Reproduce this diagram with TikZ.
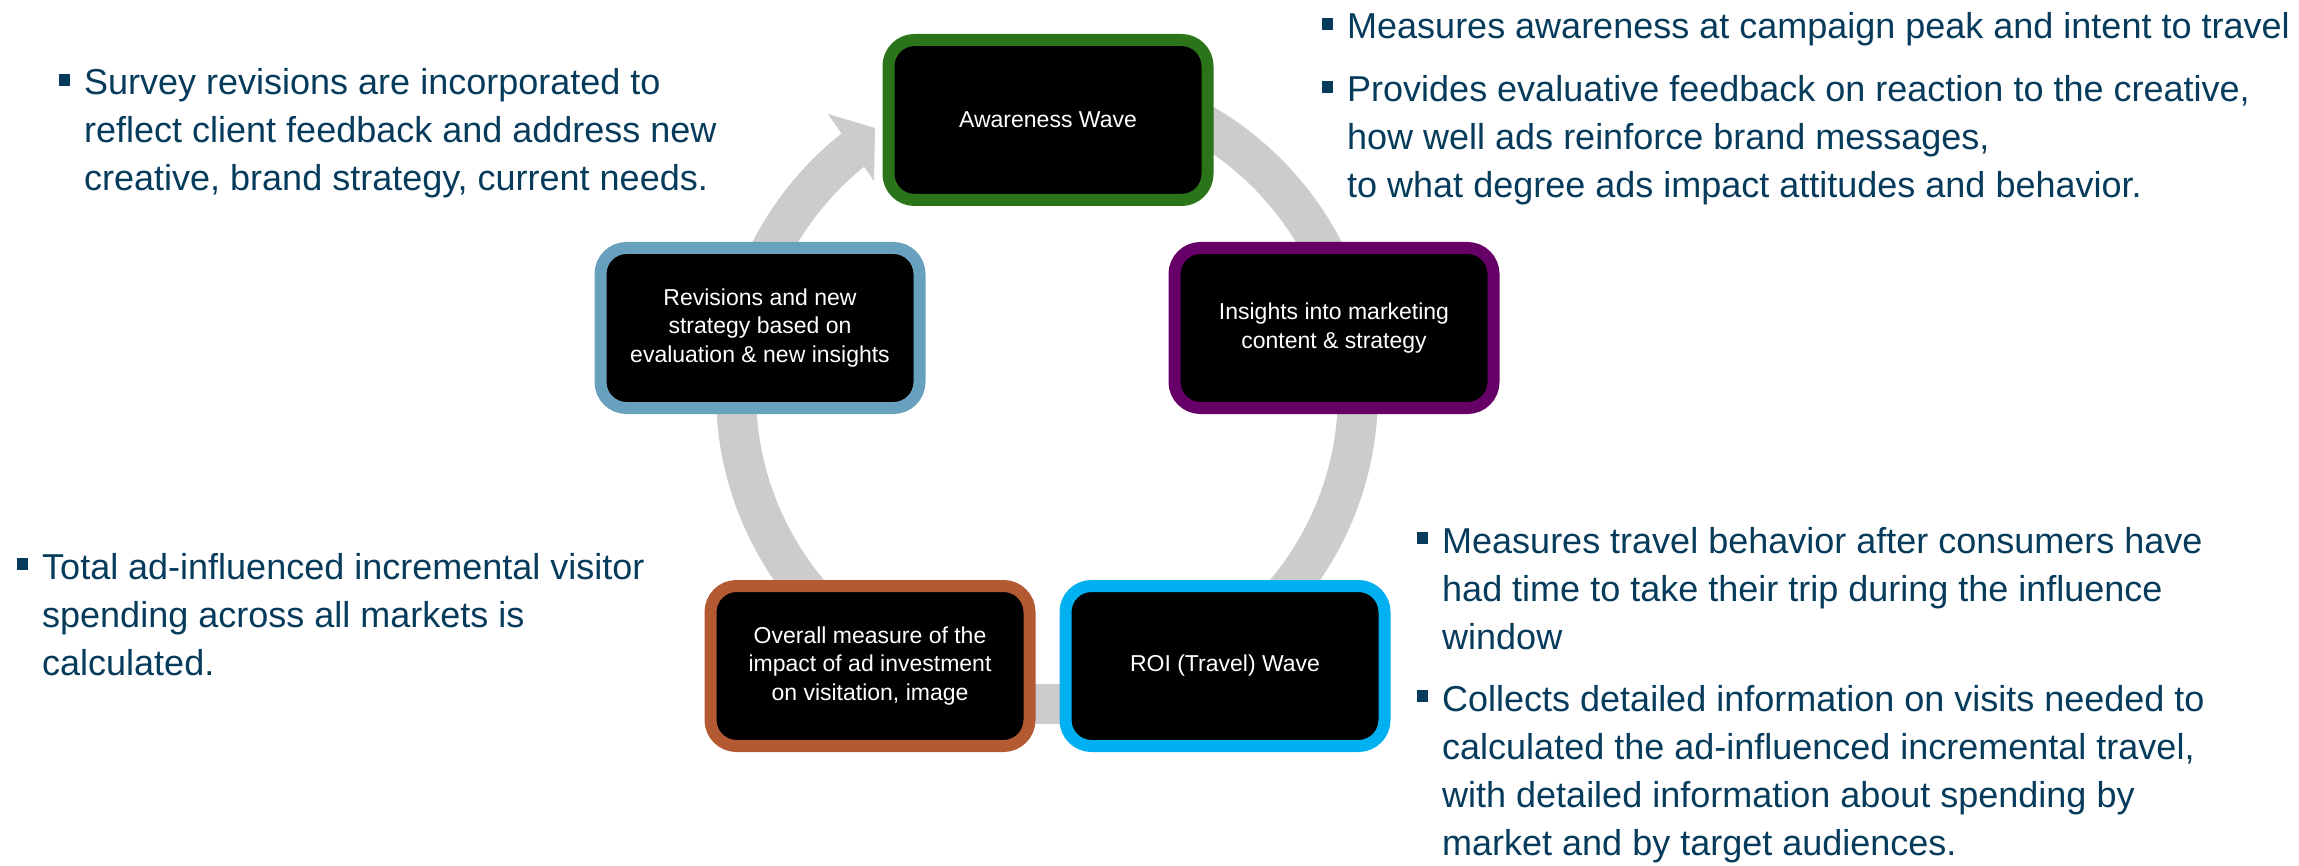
\documentclass[tikz,border=0pt]{standalone}
\usepackage{fontspec}
\setmainfont{Liberation Sans}
\usetikzlibrary{positioning}

\definecolor{navy}{HTML}{063B5C}
\definecolor{ringgrey}{HTML}{CCCCCC}
\definecolor{wavegreen}{HTML}{2C7419}
\definecolor{insightpurple}{HTML}{660066}
\definecolor{roicyan}{HTML}{00B0F0}
\definecolor{overallbrown}{HTML}{B35A32}
\definecolor{revisionblue}{HTML}{67A1BE}

% square bullet hanging left of the first line
\newcommand{\sqbul}{\llap{\raisebox{9pt}{\rule{11pt}{12pt}}\hspace{14pt}}}

\begin{document}
\begin{tikzpicture}[
   x=1pt, y=-1pt,
   stage/.style={draw,line width=12pt,fill=black,rounded corners=26pt,
                 minimum width=319pt,minimum height=160pt,align=center,
                 text=white,font=\fontsize{23}{28.5}\selectfont},
   note/.style={anchor=base west,align=left,inner sep=0pt,text=navy,
                font=\fontsize{36}{48}\selectfont},
   ring/.style={draw=ringgrey,line width=40pt},
   ]
\useasboundingbox (0,0) rectangle (2299,866);
%% cycle centre
\coordinate (c) at (1047,393);
%% grey cycle with its arrow head
\draw[ring] ([shift={(270:311)}]c) arc[start angle=270,end angle=592,radius=311];
\coordinate (h1) at (828,114);
\coordinate (h2) at (875,128);
\coordinate (h3) at (874,181);
\fill[ringgrey] (h1) -- (h2) -- (h3) -- cycle;
%% the five stages
\node[stage,draw=wavegreen]     (aware)    at (1048,120) {Awareness Wave};
\node[stage,draw=insightpurple] (insight)  at (1334,328) {Insights into marketing\\content \& strategy};
\node[stage,draw=roicyan]       (roi)      at (1225,666) {ROI (Travel) Wave};
\node[stage,draw=overallbrown]  (overall)  at (870,666)  {Overall measure of the\\impact of ad investment\\on visitation, image};
\node[stage,draw=revisionblue]  (revise)   at (760,328)  {Revisions and new\\strategy based on\\evaluation \& new insights};
%% notes beside the stages (anchored on their last line)
\node[note] (n-survey) at (84,191)
   {\sqbul Survey revisions are incorporated to\\reflect client feedback and address new\\creative, brand strategy, current needs.};
\node[note] (n-peak) at (1347,39)
   {\sqbul Measures awareness at campaign peak and intent to travel};
\node[note] (n-eval) at (1347,198)
   {\sqbul Provides evaluative feedback on reaction to the creative,\\how well ads reinforce brand messages,\\to what degree ads impact attitudes and behavior.};
\node[note] (n-total) at (42,675)
   {\sqbul Total ad-influenced incremental visitor\\spending across all markets is\\calculated.};
\node[note] (n-trip) at (1442,649)
   {\sqbul Measures travel behavior after consumers have\\had time to take their trip during the influence\\window};
\node[note] (n-visits) at (1442,855)
   {\sqbul Collects detailed information on visits needed to\\calculated the ad-influenced incremental travel,\\with detailed information about spending by\\market and by target audiences.};
\end{tikzpicture}
\end{document}
